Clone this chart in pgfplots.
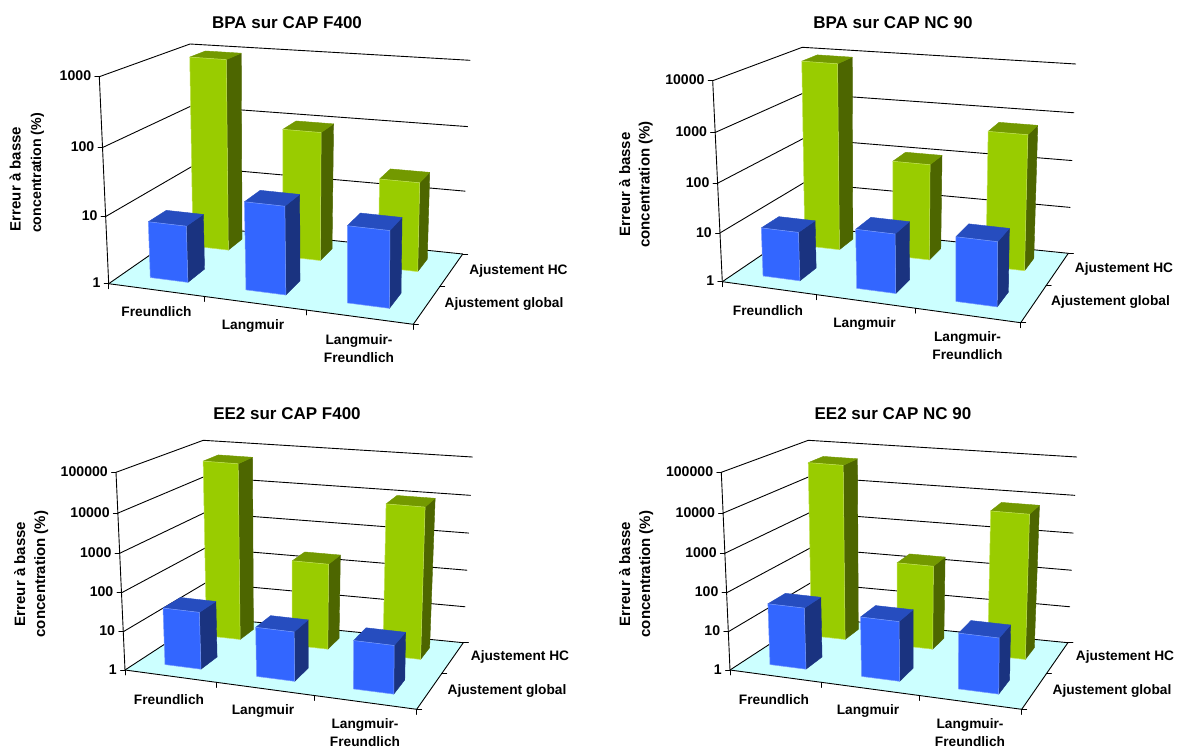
\documentclass[border=0pt]{standalone}
\usepackage{fontspec}
\setmainfont{Liberation Sans}
\usepackage{xfp}
\usepackage{pgfplots}
\pgfplotsset{compat=1.18}
\definecolor{bF}{HTML}{3366FF}\definecolor{bS}{HTML}{1A3380}\definecolor{bT}{HTML}{264DBF}
\definecolor{gF}{HTML}{99CC00}\definecolor{gS}{HTML}{4D6600}\definecolor{gT}{HTML}{739900}
\definecolor{bE}{HTML}{7A9CFF}\definecolor{gE}{HTML}{C4E45A}\definecolor{flo}{HTML}{CCFFFF}
\pgfplotsset{
 panel/.style={hide axis,clip=false,x=1pt,y=1pt,y dir=reverse,anchor=south west},
 ln/.style={black,line width=0.9pt,mark=none,forget plot,line cap=round},
 ff/.style={fill=flo,draw=none,mark=none,forget plot},
 f0/.style={fill=bF,draw=bE,line width=0.5pt,mark=none,forget plot,line join=round},
 s0/.style={fill=bS,draw=bS,line width=0.4pt,mark=none,forget plot,line join=round},
 t0/.style={fill=bT,draw=bT,line width=0.4pt,mark=none,forget plot,line join=round},
 f1/.style={fill=gF,draw=gE,line width=0.5pt,mark=none,forget plot,line join=round},
 s1/.style={fill=gS,draw=gS,line width=0.4pt,mark=none,forget plot,line join=round},
 t1/.style={fill=gT,draw=gT,line width=0.4pt,mark=none,forget plot,line join=round},
}
\newcommand\lab{\fontsize{13.7}{18}\selectfont\bfseries}
\newcommand\tick{\fontsize{14.1}{19}\selectfont\bfseries}
\newcommand\yl{\fontsize{15}{19}\selectfont\bfseries}
\newcommand\ylb{\fontsize{14.2}{19}\selectfont\bfseries}
\newcommand\ttl{\fontsize{17}{20}\selectfont\bfseries}
% floor corners: front-left, front-right, back-left, back-right
\newcommand\setfloor[8]{\def\xa{#1}\def\ya{#2}\def\xb{#3}\def\yb{#4}\def\xc{#5}\def\yc{#6}\def\xd{#7}\def\yd{#8}}
\newcommand\settop[8]{\def\Xa{#1}\def\Ya{#2}\def\Xb{#3}\def\Yb{#4}\def\Xc{#5}\def\Yc{#6}\def\Xd{#7}\def\Yd{#8}}
% \PT{name}{t across}{t depth}{w}: position on the picture
\newcommand\PT[4]{%
 \edef\U{\fpeval{(#2)-0.085*(#2)*(1-(#2))}}%
 \edef\V{\fpeval{(#3)+0.14*(#3)*(1-(#3))}}%
 \edef\F{\fpeval{(#4)-0.04*(#4)*(1-(#4))}}%
 \edef\PX{\fpeval{(1-\U)*(1-\V)*((1-\F)*\xa+\F*\Xa)+\U*(1-\V)*((1-\F)*\xb+\F*\Xb)+(1-\U)*\V*((1-\F)*\xc+\F*\Xc)+\U*\V*((1-\F)*\xd+\F*\Xd)}}%
 \edef\PY{\fpeval{(1-\U)*(1-\V)*((1-\F)*\ya+\F*\Ya)+\U*(1-\V)*((1-\F)*\yb+\F*\Yb)+(1-\U)*\V*((1-\F)*\yc+\F*\Yc)+\U*\V*((1-\F)*\yd+\F*\Yd)}}%
 \expandafter\edef\csname#1\endcsname{(\PX,\PY)}}
\newcommand\poly[5]{\edef\doit{\noexpand\addplot[#1] coordinates {#2 #3 #4 #5} -- cycle;}\doit}
\newcommand\seg[3]{\edef\doit{\noexpand\addplot[#1] coordinates {#2 #3};}\doit}
% \Bar{category}{row}{value}
\newcommand\Bar[3]{%
 \edef\ua{\fpeval{(#1+0.3)/3}}\edef\ub{\fpeval{(#1+0.7)/3}}%
 \ifnum#2=0 \def\va{0.15}\def\vb{0.355}\else\def\va{0.67}\def\vb{0.865}\fi
 \edef\wv{\fpeval{ln(#3)/ln(10)/\dec}}%
 \PT{pa}{\ua}{\va}{0}\PT{pb}{\ub}{\va}{0}\PT{pc}{\ub}{\vb}{0}%
 \PT{qa}{\ua}{\va}{\wv}\PT{qb}{\ub}{\va}{\wv}\PT{qc}{\ub}{\vb}{\wv}\PT{qd}{\ua}{\vb}{\wv}%
 \poly{s#2}{\pb}{\pc}{\qc}{\qb}%
 \poly{t#2}{\qa}{\qb}{\qc}{\qd}%
 \poly{f#2}{\pa}{\pb}{\qb}{\qa}}
\newcommand\Frame{%
 \PT{ca}{0}{0}{0}\PT{cb}{1}{0}{0}\PT{cc}{0}{1}{0}\PT{cd}{1}{1}{0}\PT{ct}{0}{0}{1}%
 \poly{ff}{\ca}{\cb}{\cd}{\cc}%
 \foreach \k in {0,...,\dec}{%
  \edef\wk{\fpeval{\k/\dec}}%
  \PT{g1}{0}{0}{\wk}\edef\gA{\csname g1\endcsname}%
  \edef\gTx{\PX}\edef\gTy{\PY}%
  \PT{g2}{0}{1}{\wk}\edef\gB{\csname g2\endcsname}%
  \PT{g3}{1}{1}{\wk}\edef\gC{\csname g3\endcsname}%
  \edef\doit{\noexpand\addplot[ln] coordinates {\gA \gB \gC};}\doit
  \edef\doit{\noexpand\addplot[ln] coordinates {(\gTx,\gTy) (\fpeval{\gTx-4.5},\gTy)};}\doit
  \edef\doit{\noexpand\node[anchor=east,font=\noexpand\tick,inner sep=0pt] at (axis cs:\fpeval{\gTx-8},\fpeval{\gTy-0.8}) {\fpeval{10^\k}};}\doit
 }%
 \PT{ct}{0}{0}{1}\seg{ln}{\ca}{\ct}%
 \seg{ln}{\ca}{\cb}\seg{ln}{\cb}{\cd}%
 \foreach \t in {0,0.33333,0.66667,1}{%
  \PT{tk}{\t}{0}{0}%
  \edef\doit{\noexpand\addplot[ln] coordinates {(\PX,\PY) (\PX,\fpeval{\PY+5})};}\doit}%
 \foreach \t in {0,0.5,1}{%
  \PT{tk}{1}{\t}{0}%
  \edef\doit{\noexpand\addplot[ln] coordinates {(\PX,\PY) (\fpeval{\PX+5},\PY)};}\doit}%
}
\newcommand\txt[4][]{\node[font=\lab,align=center,inner sep=0pt,yshift=-1.2pt,#1] at (axis cs:#2,#3) {#4};}
\newcommand\yt[4][\yl]{\node[font=#1,rotate=90,anchor=base,inner sep=0pt] at (axis cs:#2,#3) {#4};}
\begin{document}
\begin{tikzpicture}
\path (0,0) rectangle (1178pt,-749pt);
% ---------- BPA sur CAP F400
\setfloor{108.7}{283.7}{413.3}{324.3}{192}{225.8}{462.7}{254}
\settop{99.3}{76.7}{415}{105}{190}{44}{470}{60.3}
\def\dec{3}
\begin{axis}[panel,xmin=0,xmax=589,ymin=0,ymax=375,at={(0pt,-375pt)}]
\Frame
\Bar{0}{1}{950}\Bar{1}{1}{97}\Bar{2}{1}{23}
\Bar{0}{0}{7}\Bar{1}{0}{20}\Bar{2}{0}{13.2}
\node[font=\ttl,inner sep=0pt] at (axis cs:287,22.5) {BPA sur CAP F400};
\yt{20.5}{179}{Erreur à basse}
\yt[\ylb]{41}{173}{concentration (\%)}
\txt{156.5}{310}{Freundlich}
\txt{253}{324.3}{Langmuir}
\txt{359}{347}{Langmuir-\\Freundlich}
\txt{518.5}{269.3}{Ajustement HC}
\txt{504}{303}{Ajustement global}
\end{axis}
% ---------- BPA sur CAP NC 90
\setfloor{722.3}{281.7}{1020.7}{322.7}{804}{226.3}{1068.3}{253.3}
\settop{712.7}{80.7}{1022.7}{110.7}{802.3}{47.3}{1075.7}{64}
\def\dec{4}
\begin{axis}[panel,xmin=589,xmax=1178,ymin=0,ymax=375,at={(589pt,-375pt)}]
\Frame
\Bar{0}{1}{9100}\Bar{1}{1}{107}\Bar{2}{1}{665}
\Bar{0}{0}{10}\Bar{1}{0}{16}\Bar{2}{0}{19.7}
\node[font=\ttl,inner sep=0pt] at (axis cs:893,22.5) {BPA sur CAP NC 90};
\yt{630}{184.5}{Erreur à basse}
\yt{649.5}{184.5}{concentration (\%)}
\txt{768}{309.3}{Freundlich}
\txt{864.5}{322.3}{Langmuir}
\txt{967.5}{344.5}{Langmuir-\\Freundlich}
\txt{1124}{267.3}{Ajustement HC}
\txt{1110.5}{301}{Ajustement global}
\end{axis}
% ---------- EE2 sur CAP F400
\setfloor{125}{670}{416.7}{709.3}{206}{617.2}{463.3}{642.7}
\settop{116}{472.3}{418.7}{503}{203.3}{440.3}{472.3}{457}
\def\dec{5}
\begin{axis}[panel,xmin=0,xmax=589,ymin=375,ymax=749,at={(0pt,-749pt)}]
\Frame
\Bar{0}{1}{57000}\Bar{1}{1}{204}\Bar{2}{1}{10500}
\Bar{0}{0}{31}\Bar{1}{0}{19}\Bar{2}{0}{17.5}
\node[font=\ttl,inner sep=0pt] at (axis cs:287,413.5) {EE2 sur CAP F400};
\yt{25}{574}{Erreur à basse}
\yt{45}{574}{concentration (\%)}
\txt{169}{698.3}{Freundlich}
\txt{263}{710}{Langmuir}
\txt{365}{731.5}{Langmuir-\\Freundlich}
\txt{520}{656}{Ajustement HC}
\txt{507}{690}{Ajustement global}
\end{axis}
% ---------- EE2 sur CAP NC 90
\setfloor{730}{670}{1021.7}{709.3}{811}{617.2}{1067.9}{642.7}
\settop{721.3}{472.3}{1023.7}{503}{808.3}{440.3}{1076.7}{457}
\def\dec{5}
\begin{axis}[panel,xmin=589,xmax=1178,ymin=375,ymax=749,at={(589pt,-749pt)}]
\Frame
\Bar{0}{1}{52000}\Bar{1}{1}{180}\Bar{2}{1}{6900}
\Bar{0}{0}{40}\Bar{1}{0}{35}\Bar{2}{0}{27}
\node[font=\ttl,inner sep=0pt] at (axis cs:893,413.5) {EE2 sur CAP NC 90};
\yt{630}{574}{Erreur à basse}
\yt{650}{574}{concentration (\%)}
\txt{774}{698.3}{Freundlich}
\txt{868}{710}{Langmuir}
\txt{970}{731.5}{Langmuir-\\Freundlich}
\txt{1125}{656}{Ajustement HC}
\txt{1112}{690}{Ajustement global}
\end{axis}
\end{tikzpicture}
\end{document}
